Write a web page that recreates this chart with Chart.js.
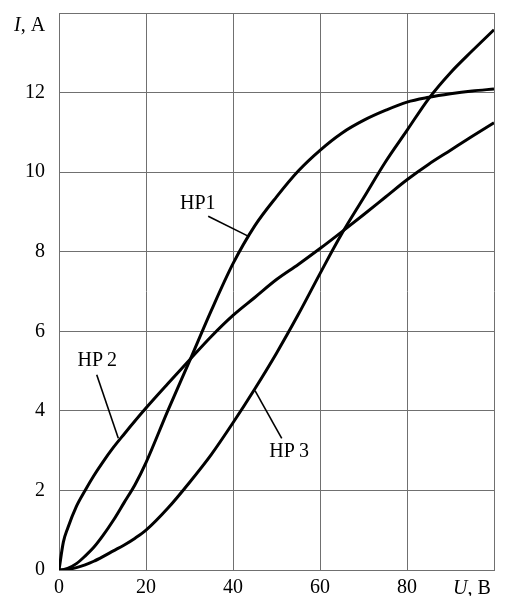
<!DOCTYPE html>
<html>
<head>
<meta charset="utf-8">
<script src="https://cdn.jsdelivr.net/npm/chart.js@4/dist/chart.umd.min.js"></script>
<style>
  html, body { margin: 0; padding: 0; background: #fff; }
  #wrap { width: 509px; height: 596px; }
</style>
</head>
<body>
<div id="wrap"><canvas id="vac" width="509" height="596"></canvas></div>
<script>
// ВАХ нелинейных резисторов НР1, НР2, НР3
const U = [0, 1, 2, 4, 6, 8, 10, 12.5, 15, 17.5, 20, 25, 30, 35, 40, 45, 50, 55, 60, 65, 70, 75, 80, 85, 90, 95, 100];
const HP1 = [0, 0.01, 0.04, 0.16, 0.35, 0.57, 0.85, 1.25, 1.7, 2.15, 2.7, 4.0, 5.25, 6.52, 7.7, 8.65, 9.38, 10.03, 10.55, 10.98, 11.3, 11.55, 11.76, 11.88, 11.97, 12.04, 12.09];
const HP2 = [0, 0.7, 1.05, 1.6, 2.0, 2.37, 2.7, 3.08, 3.42, 3.75, 4.07, 4.68, 5.28, 5.87, 6.4, 6.85, 7.3, 7.68, 8.08, 8.5, 8.93, 9.37, 9.81, 10.2, 10.55, 10.9, 11.24];
const HP3 = [0, 0.005, 0.015, 0.06, 0.13, 0.22, 0.33, 0.48, 0.63, 0.8, 1.0, 1.55, 2.2, 2.9, 3.7, 4.55, 5.45, 6.42, 7.45, 8.45, 9.35, 10.25, 11.05, 11.85, 12.5, 13.05, 13.58];

const X_TICKS = [0, 20, 40, 60, 80];
const Y_TICKS = [0, 2, 4, 6, 8, 10, 12];

// подписи кривых: текст и выноска, в координатах U, I
const CURVE_LABELS = [
  { text: "НР1", at: [31.9, 9.2], from: [34.3, 8.89], to: [43.7, 8.38] },
  { text: "НР\u20092", at: [8.8, 5.25], from: [8.67, 4.91], to: [13.63, 3.31] },
  { text: "НР\u20093", at: [52.9, 2.96], from: [45.06, 4.51], to: [51.2, 3.31] },
];

const INK = "#000";
const GRID = "#707070";
const SERIF = '"Liberation Serif", "DejaVu Serif", serif';

Chart.defaults.font.family = SERIF;
Chart.defaults.font.size = 20;
Chart.defaults.color = INK;

const pts = (ys) => U.map((u, i) => ({ x: u, y: ys[i] }));

function curve(label, ys) {
  return {
    label,
    data: pts(ys),
    borderColor: INK,
    borderWidth: 3,
    pointRadius: 0,
    fill: false,
    cubicInterpolationMode: "monotone",
  };
}

// поля, которые шкалы резервируют под крайние подписи, не нужны
function noEdgePadding(s) {
  s.paddingTop = 0;
  s.paddingBottom = 0;
  s.paddingLeft = 0;
  s.paddingRight = 0;
}

const labelsPlugin = {
  id: "curveLabels",
  afterDatasetsDraw(chart) {
    const { ctx, scales } = chart;
    const px = (u) => scales.x.getPixelForValue(u);
    const py = (i) => scales.y.getPixelForValue(i);
    ctx.save();
    ctx.strokeStyle = INK;
    ctx.lineWidth = 1.6;
    ctx.fillStyle = INK;
    ctx.font = "20px " + SERIF;
    ctx.textAlign = "center";
    ctx.textBaseline = "middle";
    for (const l of CURVE_LABELS) {
      ctx.beginPath();
      ctx.moveTo(px(l.from[0]), py(l.from[1]));
      ctx.lineTo(px(l.to[0]), py(l.to[1]));
      ctx.stroke();
      ctx.fillText(l.text, px(l.at[0]), py(l.at[1]));
    }

    // подписи осей
    ctx.textAlign = "left";
    ctx.textBaseline = "alphabetic";
    const axisTitle = (italic, rest, x, y) => {
      ctx.font = "italic 20px " + SERIF;
      ctx.fillText(italic, x, y);
      const w = ctx.measureText(italic).width;
      ctx.font = "20px " + SERIF;
      ctx.fillText(rest, x + w, y);
    };
    axisTitle("I", ", А", 14, 31);
    axisTitle("U", ", В", 453, 594);
    ctx.restore();
  },
};

new Chart(document.getElementById("vac"), {
  type: "line",
  data: {
    datasets: [curve("НР1", HP1), curve("НР2", HP2), curve("НР3", HP3)],
  },
  options: {
    responsive: false,
    animation: false,
    layout: { padding: { top: 13, right: 15, left: 0, bottom: 0 } },
    plugins: { legend: { display: false }, tooltip: { enabled: false } },
    scales: {
      x: {
        type: "linear",
        min: 0,
        max: 100,
        afterBuildTicks: (s) => {
          s.ticks = [...X_TICKS, 100].map((v) => ({ value: v }));
        },
        afterFit: (s) => {
          s.height = 26;
          noEdgePadding(s);
        },
        ticks: {
          padding: 6,
          callback: (v) => (X_TICKS.includes(v) ? String(v) : ""),
        },
        grid: { color: GRID, lineWidth: 1, drawTicks: false },
        border: { color: GRID },
      },
      y: {
        min: 0,
        max: 14,
        afterBuildTicks: (s) => {
          s.ticks = [...Y_TICKS, 14].map((v) => ({ value: v }));
        },
        afterFit: (s) => {
          s.width = 59;
          noEdgePadding(s);
        },
        ticks: {
          padding: 14,
          callback: (v) => (Y_TICKS.includes(v) ? String(v) : ""),
        },
        grid: { color: GRID, lineWidth: 1, drawTicks: false },
        border: { color: GRID },
      },
    },
  },
  plugins: [labelsPlugin],
});
</script>
</body>
</html>
